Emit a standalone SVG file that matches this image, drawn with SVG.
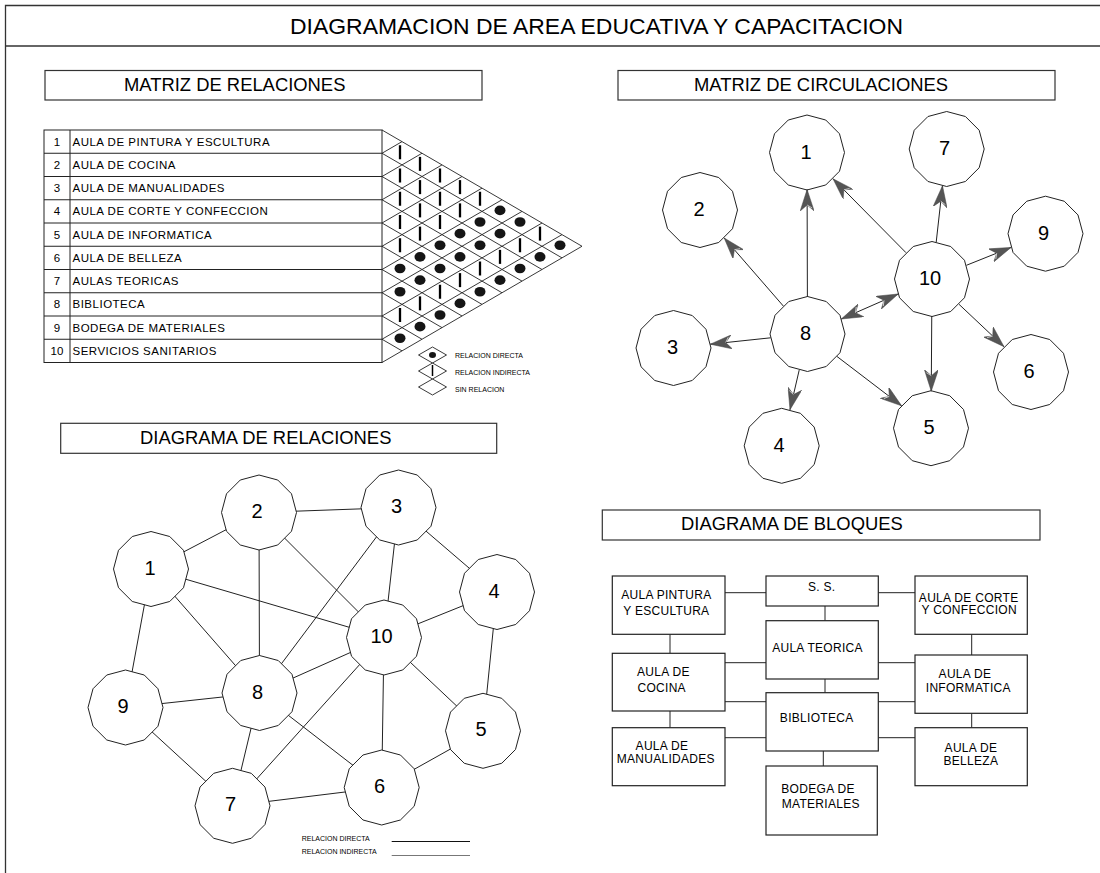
<svg xmlns="http://www.w3.org/2000/svg" xmlns:xlink="http://www.w3.org/1999/xlink" width="1100" height="873" viewBox="0 0 1100 873">
<style>
text{font-family:"Liberation Sans",Arial,Helvetica,sans-serif;fill:#000}
.frame{fill:none;stroke:#333;stroke-width:1.3}
.hbox{fill:#fff;stroke:#333;stroke-width:1.2}
.htxt{font-size:18.4px}
.tbl{fill:none;stroke:#222;stroke-width:1}
.rowt{font-size:11.5px;letter-spacing:0.5px}
.leg{font-size:7px}
.grid{stroke:#222;stroke-width:0.9;fill:none}
.poly{fill:#fff;stroke:#222;stroke-width:1}
.nl{font-size:20px;text-anchor:middle}
.edge{stroke:#222;stroke-width:1;fill:none}
.arr{stroke:#222;stroke-width:1;fill:none;marker-end:url(#ah)}
.blk{fill:#fff;stroke:#222;stroke-width:1.2}
.bt{font-size:12px;letter-spacing:0.3px;text-anchor:middle}
</style>
<defs>
<polygon id="dodec" points="0,-37.5 18.75,-32.48 32.48,-18.75 37.5,0 32.48,18.75 18.75,32.48 0,37.5 -18.75,32.48 -32.48,18.75 -37.5,0 -32.48,-18.75 -18.75,-32.48"/>
<line id="ib" x1="0" y1="-7" x2="0" y2="7" stroke="#000" stroke-width="2.3"/>
<ellipse id="dd" rx="5.5" ry="4.8" fill="#151515"/>
<marker id="ah" viewBox="0 0 22 14" refX="21.5" refY="7" markerWidth="22" markerHeight="14" markerUnits="userSpaceOnUse" orient="auto-start-reverse">
<path d="M0,0 L21.5,7 L0,14 L6,7 Z" fill="#555" stroke="#444" stroke-width="0.5"/>
<path d="M6,7 L3,12" stroke="#ddd" stroke-width="0.8" fill="none"/>
</marker>
</defs>
<rect width="1100" height="873" fill="#fff"/>

<g id="frame">
<polyline class="frame" points="5.5,873 5.5,5.5 1100,5.5"/>
<line class="frame" x1="5.5" y1="46" x2="1100" y2="46"/>
<text x="290" y="34" font-size="22.3" textLength="613" lengthAdjust="spacingAndGlyphs">DIAGRAMACION DE AREA EDUCATIVA Y CAPACITACION</text>
</g>

<!-- ============ MATRIZ DE RELACIONES ============ -->
<g id="hdr-matriz-relaciones">
<rect class="hbox" x="45" y="70.5" width="437" height="29.5"/>
<text class="htxt" x="124" y="91">MATRIZ DE RELACIONES</text>
</g>

<g id="matrix-table">
<rect class="tbl" x="44" y="130" width="338" height="232.5"/>
<line class="tbl" x1="70" y1="130" x2="70" y2="362.5"/>
<g class="tbl">
<line x1="44" y1="153.25" x2="382" y2="153.25"/>
<line x1="44" y1="176.5" x2="382" y2="176.5"/>
<line x1="44" y1="199.75" x2="382" y2="199.75"/>
<line x1="44" y1="223" x2="382" y2="223"/>
<line x1="44" y1="246.25" x2="382" y2="246.25"/>
<line x1="44" y1="269.5" x2="382" y2="269.5"/>
<line x1="44" y1="292.75" x2="382" y2="292.75"/>
<line x1="44" y1="316" x2="382" y2="316"/>
<line x1="44" y1="339.25" x2="382" y2="339.25"/>
</g>
<g class="rowt">
<text x="57" y="145.5" text-anchor="middle" letter-spacing="0">1</text><text x="72.5" y="145.5">AULA DE PINTURA Y ESCULTURA</text>
<text x="57" y="168.75" text-anchor="middle" letter-spacing="0">2</text><text x="72.5" y="168.75">AULA DE COCINA</text>
<text x="57" y="192" text-anchor="middle" letter-spacing="0">3</text><text x="72.5" y="192">AULA DE MANUALIDADES</text>
<text x="57" y="215.25" text-anchor="middle" letter-spacing="0">4</text><text x="72.5" y="215.25">AULA DE CORTE Y CONFECCION</text>
<text x="57" y="238.5" text-anchor="middle" letter-spacing="0">5</text><text x="72.5" y="238.5">AULA DE INFORMATICA</text>
<text x="57" y="261.75" text-anchor="middle" letter-spacing="0">6</text><text x="72.5" y="261.75">AULA DE BELLEZA</text>
<text x="57" y="285" text-anchor="middle" letter-spacing="0">7</text><text x="72.5" y="285">AULAS TEORICAS</text>
<text x="57" y="308.25" text-anchor="middle" letter-spacing="0">8</text><text x="72.5" y="308.25">BIBLIOTECA</text>
<text x="57" y="331.5" text-anchor="middle" letter-spacing="0">9</text><text x="72.5" y="331.5">BODEGA DE MATERIALES</text>
<text x="57" y="354.75" text-anchor="middle" letter-spacing="0">10</text><text x="72.5" y="354.75">SERVICIOS SANITARIOS</text>
</g>
</g>

<g id="matrix-grid" class="grid">
<line x1="382" y1="130" x2="582" y2="246.25"/>
<line x1="382" y1="153.25" x2="562" y2="257.875"/>
<line x1="382" y1="176.5" x2="542" y2="269.5"/>
<line x1="382" y1="199.75" x2="522" y2="281.125"/>
<line x1="382" y1="223" x2="502" y2="292.75"/>
<line x1="382" y1="246.25" x2="482" y2="304.375"/>
<line x1="382" y1="269.5" x2="462" y2="316"/>
<line x1="382" y1="292.75" x2="442" y2="327.625"/>
<line x1="382" y1="316" x2="422" y2="339.25"/>
<line x1="382" y1="339.25" x2="402" y2="350.875"/>
<line x1="382" y1="153.25" x2="402" y2="141.625"/>
<line x1="382" y1="176.5" x2="422" y2="153.25"/>
<line x1="382" y1="199.75" x2="442" y2="164.875"/>
<line x1="382" y1="223" x2="462" y2="176.5"/>
<line x1="382" y1="246.25" x2="482" y2="188.125"/>
<line x1="382" y1="269.5" x2="502" y2="199.75"/>
<line x1="382" y1="292.75" x2="522" y2="211.375"/>
<line x1="382" y1="316" x2="542" y2="223"/>
<line x1="382" y1="339.25" x2="562" y2="234.625"/>
<line x1="382" y1="362.5" x2="582" y2="246.25"/>
</g>

<g id="matrix-symbols">
<use href="#ib" x="400" y="152.25"/>
<use href="#ib" x="400" y="175.5"/>
<use href="#ib" x="400" y="198.75"/>
<use href="#ib" x="400" y="222"/>
<use href="#ib" x="400" y="245.25"/>
<use href="#dd" x="400" y="268.5"/>
<use href="#dd" x="400" y="291.75"/>
<use href="#ib" x="400" y="315"/>
<use href="#dd" x="400" y="338.25"/>

<use href="#ib" x="420" y="163.875"/>
<use href="#ib" x="420" y="187.125"/>
<use href="#ib" x="420" y="210.375"/>
<use href="#ib" x="420" y="233.625"/>
<use href="#dd" x="420" y="256.875"/>
<use href="#dd" x="420" y="280.125"/>
<use href="#ib" x="420" y="303.375"/>
<use href="#dd" x="420" y="326.625"/>

<use href="#ib" x="440" y="175.5"/>
<use href="#ib" x="440" y="198.75"/>
<use href="#ib" x="440" y="222"/>
<use href="#dd" x="440" y="245.25"/>
<use href="#dd" x="440" y="268.5"/>
<use href="#ib" x="440" y="291.75"/>
<use href="#dd" x="440" y="315"/>

<use href="#ib" x="460" y="187.125"/>
<use href="#ib" x="460" y="210.375"/>
<use href="#dd" x="460" y="233.625"/>
<use href="#dd" x="460" y="256.875"/>
<use href="#ib" x="460" y="280.125"/>
<use href="#dd" x="460" y="303.375"/>

<use href="#ib" x="480" y="198.75"/>
<use href="#dd" x="480" y="222"/>
<use href="#dd" x="480" y="245.25"/>
<use href="#ib" x="480" y="268.5"/>
<use href="#dd" x="480" y="291.75"/>

<use href="#dd" x="500" y="210.375"/>
<use href="#dd" x="500" y="233.625"/>
<use href="#ib" x="500" y="256.875"/>
<use href="#dd" x="500" y="280.125"/>

<use href="#dd" x="520" y="222"/>
<use href="#ib" x="520" y="245.25"/>
<use href="#dd" x="520" y="268.5"/>

<use href="#ib" x="540" y="233.625"/>
<use href="#dd" x="540" y="256.875"/>

<use href="#dd" x="560" y="245.25"/>
</g>

<g id="matrix-legend">
<polygon class="grid" points="418.5,355 432.5,347 446.5,355 432.5,363"/>
<ellipse cx="432.5" cy="355" rx="3.5" ry="3" fill="#151515"/>
<polygon class="grid" points="418.5,371 432.5,363 446.5,371 432.5,379"/>
<line x1="432.5" y1="365" x2="432.5" y2="376" stroke="#000" stroke-width="1.5"/>
<polygon class="grid" points="418.5,387 432.5,379 446.5,387 432.5,395"/>
<text class="leg" x="455" y="357.5">RELACION DIRECTA</text>
<text class="leg" x="455" y="375">RELACION INDIRECTA</text>
<text class="leg" x="455" y="392">SIN RELACION</text>
</g>

<!-- ============ MATRIZ DE CIRCULACIONES ============ -->
<g id="hdr-matriz-circulaciones">
<rect class="hbox" x="618" y="70.5" width="437" height="29.5"/>
<text class="htxt" x="694" y="91">MATRIZ DE CIRCULACIONES</text>
</g>

<g id="circ-nodes">
<g id="circ-node-1"><use href="#dodec" class="poly" x="807" y="152.5"/><text class="nl" x="806" y="158.5">1</text></g>
<g id="circ-node-2"><use href="#dodec" class="poly" x="700" y="210"/><text class="nl" x="699" y="216">2</text></g>
<g id="circ-node-3"><use href="#dodec" class="poly" x="673.5" y="348"/><text class="nl" x="672.5" y="354">3</text></g>
<g id="circ-node-4"><use href="#dodec" class="poly" x="781.7" y="445.8"/><text class="nl" x="779" y="451.5">4</text></g>
<g id="circ-node-5"><use href="#dodec" class="poly" x="931" y="428.2"/><text class="nl" x="929" y="434">5</text></g>
<g id="circ-node-6"><use href="#dodec" class="poly" x="1031" y="372"/><text class="nl" x="1029" y="378">6</text></g>
<g id="circ-node-7"><use href="#dodec" class="poly" x="946.7" y="149"/><text class="nl" x="944.5" y="155">7</text></g>
<g id="circ-node-8"><use href="#dodec" class="poly" x="807.5" y="334"/><text class="nl" x="805.5" y="340">8</text></g>
<g id="circ-node-9"><use href="#dodec" class="poly" x="1045.5" y="233.7"/><text class="nl" x="1043.5" y="239.5">9</text></g>
<g id="circ-node-10"><use href="#dodec" class="poly" x="932" y="279"/><text class="nl" x="930" y="285">10</text></g>
</g>

<g id="circ-connectors">
<line class="arr" x1="807.4" y1="297" x2="807.1" y2="189.5"/>
<line class="arr" x1="783.3" y1="306" x2="724.2" y2="238"/>
<line class="arr" x1="770.7" y1="337.8" x2="710.3" y2="344.2"/>
<line class="arr" x1="799.2" y1="370.1" x2="790" y2="409.7"/>
<line class="arr" x1="836.9" y1="356.4" x2="901.6" y2="405.8"/>
<line class="arr" x1="906" y1="252.7" x2="833" y2="178.8"/>
<line class="arr" x1="936.2" y1="242.2" x2="942.5" y2="185.8"/>
<line class="arr" x1="966.4" y1="265.3" x2="1011.1" y2="247.4"/>
<line class="arr" x1="959" y1="304.3" x2="1004" y2="346.7"/>
<line class="arr" x1="931.75" y1="316" x2="931.25" y2="391.2"/>
<line class="arr" x1="841.3" y1="319" x2="898.2" y2="294" marker-start="url(#ah)"/>
</g>

<!-- ============ DIAGRAMA DE RELACIONES ============ -->
<g id="hdr-diagrama-relaciones">
<rect class="hbox" x="60.7" y="423.3" width="436" height="30"/>
<text class="htxt" x="140" y="443.5">DIAGRAMA DE RELACIONES</text>
</g>

<g id="rel-connectors" class="edge">
<line x1="151" y1="569" x2="259" y2="512.5"/>
<line x1="259" y1="512.5" x2="398.5" y2="507.5"/>
<line x1="398.5" y1="507.5" x2="497" y2="592"/>
<line x1="151" y1="569" x2="384" y2="637.5"/>
<line x1="151" y1="569" x2="259.5" y2="693"/>
<line x1="151" y1="569" x2="125.5" y2="707.5"/>
<line x1="259" y1="512.5" x2="259.5" y2="693"/>
<line x1="259" y1="512.5" x2="384" y2="637.5"/>
<line x1="398.5" y1="507.5" x2="259.5" y2="693"/>
<line x1="398.5" y1="507.5" x2="384" y2="637.5"/>
<line x1="497" y1="592" x2="384" y2="637.5"/>
<line x1="497" y1="592" x2="483" y2="730.8"/>
<line x1="259.5" y1="693" x2="384" y2="637.5"/>
<line x1="232.5" y1="805.8" x2="384" y2="637.5"/>
<line x1="381.7" y1="787.5" x2="384" y2="637.5"/>
<line x1="483" y1="730.8" x2="384" y2="637.5"/>
<line x1="125.5" y1="707.5" x2="259.5" y2="693"/>
<line x1="125.5" y1="707.5" x2="232.5" y2="805.8"/>
<line x1="232.5" y1="805.8" x2="259.5" y2="693"/>
<line x1="381.7" y1="787.5" x2="259.5" y2="693"/>
<line x1="381.7" y1="787.5" x2="232.5" y2="805.8"/>
<line x1="381.7" y1="787.5" x2="483" y2="730.8"/>
</g>

<g id="rel-nodes">
<g id="rel-node-1"><use href="#dodec" class="poly" x="151" y="569"/><text class="nl" x="150" y="574.5">1</text></g>
<g id="rel-node-2"><use href="#dodec" class="poly" x="259" y="512.5"/><text class="nl" x="257" y="518">2</text></g>
<g id="rel-node-3"><use href="#dodec" class="poly" x="398.5" y="507.5"/><text class="nl" x="396.5" y="513">3</text></g>
<g id="rel-node-4"><use href="#dodec" class="poly" x="497" y="592"/><text class="nl" x="494" y="597.5">4</text></g>
<g id="rel-node-5"><use href="#dodec" class="poly" x="483" y="730.8"/><text class="nl" x="481" y="736">5</text></g>
<g id="rel-node-6"><use href="#dodec" class="poly" x="381.7" y="787.5"/><text class="nl" x="379.5" y="793">6</text></g>
<g id="rel-node-7"><use href="#dodec" class="poly" x="232.5" y="805.8"/><text class="nl" x="230.5" y="811">7</text></g>
<g id="rel-node-8"><use href="#dodec" class="poly" x="259.5" y="693"/><text class="nl" x="257.5" y="698.5">8</text></g>
<g id="rel-node-9"><use href="#dodec" class="poly" x="125.5" y="707.5"/><text class="nl" x="123" y="713">9</text></g>
<g id="rel-node-10"><use href="#dodec" class="poly" x="384" y="637.5"/><text class="nl" x="381.5" y="643">10</text></g>
</g>

<g id="rel-legend">
<text class="leg" x="301.7" y="841">RELACION DIRECTA</text>
<line x1="391.7" y1="841.5" x2="470" y2="841.5" stroke="#111" stroke-width="1"/>
<text class="leg" x="301.7" y="853.5">RELACION INDIRECTA</text>
<line x1="391.7" y1="855.5" x2="470" y2="855.5" stroke="#777" stroke-width="1.2"/>
</g>

<!-- ============ DIAGRAMA DE BLOQUES ============ -->
<g id="hdr-diagrama-bloques">
<rect class="hbox" x="602.3" y="510" width="437.7" height="30"/>
<text class="htxt" x="681" y="530">DIAGRAMA DE BLOQUES</text>
</g>

<g id="block-connectors" class="edge">
<line x1="725" y1="592.7" x2="766" y2="592.7"/>
<line x1="878.3" y1="592.7" x2="915" y2="592.7"/>
<line x1="825" y1="606" x2="825" y2="620.7"/>
<line x1="670" y1="634.3" x2="670" y2="653.3"/>
<line x1="971.7" y1="634.3" x2="971.7" y2="655"/>
<line x1="725" y1="662.7" x2="766" y2="662.7"/>
<line x1="878.3" y1="662.7" x2="915" y2="662.7"/>
<line x1="825" y1="679" x2="825" y2="692.7"/>
<line x1="725" y1="701.7" x2="766" y2="701.7"/>
<line x1="878.3" y1="701.7" x2="915" y2="701.7"/>
<line x1="670" y1="711" x2="670" y2="727.7"/>
<line x1="971.7" y1="713.3" x2="971.7" y2="727.7"/>
<line x1="725" y1="737.7" x2="766" y2="737.7"/>
<line x1="878.3" y1="737.7" x2="915" y2="737.7"/>
<line x1="823.3" y1="751" x2="823.3" y2="766"/>
</g>

<g id="blk-pintura"><rect class="blk" x="612.3" y="576" width="112.7" height="58.3"/>
<text class="bt" x="666.3" y="599">AULA PINTURA</text><text class="bt" x="666.3" y="615">Y ESCULTURA</text></g>
<g id="blk-ss"><rect class="blk" x="766" y="576" width="112.3" height="30"/>
<text class="bt" x="821.7" y="590.7">S. S.</text></g>
<g id="blk-corte"><rect class="blk" x="915" y="576" width="112.3" height="58.3"/>
<text class="bt" x="968.7" y="601.7">AULA DE CORTE</text><text class="bt" x="969.2" y="614.3">Y CONFECCION</text></g>
<g id="blk-teorica"><rect class="blk" x="766" y="620.7" width="112.3" height="58.3"/>
<text class="bt" x="817.5" y="651.7">AULA TEORICA</text></g>
<g id="blk-cocina"><rect class="blk" x="612.3" y="653.3" width="112.7" height="57.7"/>
<text class="bt" x="663.3" y="676">AULA DE</text><text class="bt" x="661.7" y="691.7">COCINA</text></g>
<g id="blk-informatica"><rect class="blk" x="915" y="655" width="112.3" height="58.3"/>
<text class="bt" x="965" y="678.3">AULA DE</text><text class="bt" x="968.3" y="691.7">INFORMATICA</text></g>
<g id="blk-biblioteca"><rect class="blk" x="766" y="692.7" width="112.3" height="58.3"/>
<text class="bt" x="816.7" y="722.3">BIBLIOTECA</text></g>
<g id="blk-manualidades"><rect class="blk" x="612.3" y="727.7" width="112.7" height="58"/>
<text class="bt" x="662" y="750">AULA DE</text><text class="bt" x="665.8" y="763.3">MANUALIDADES</text></g>
<g id="blk-belleza"><rect class="blk" x="915" y="727.7" width="112.3" height="58"/>
<text class="bt" x="971" y="751.7">AULA DE</text><text class="bt" x="970.8" y="765">BELLEZA</text></g>
<g id="blk-bodega"><rect class="blk" x="766" y="766" width="111.3" height="69"/>
<text class="bt" x="818" y="793.3">BODEGA DE</text><text class="bt" x="820.8" y="808.3">MATERIALES</text></g>
</svg>
